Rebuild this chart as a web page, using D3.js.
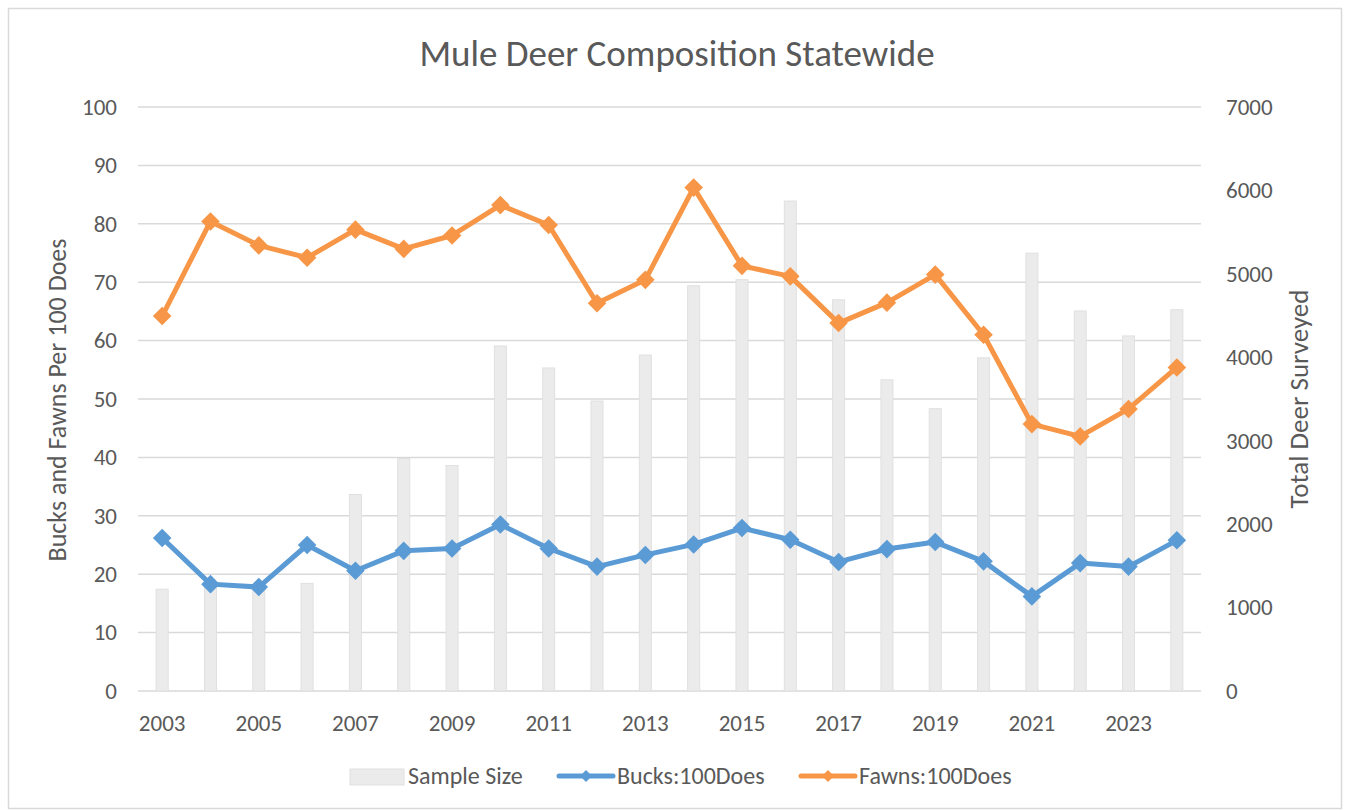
<!DOCTYPE html>
<html><head><meta charset="utf-8">
<script src="https://cdn.jsdelivr.net/npm/d3@7"></script>
<style>body{margin:0;background:#fff;} svg{display:block;} text{font-family:"Carlito","Liberation Sans Narrow","Liberation Sans",sans-serif;fill:#595959;}</style>
</head><body><svg id="c" width="1350" height="810"></svg>
<script>
const years = [2003,2004,2005,2006,2007,2008,2009,2010,2011,2012,2013,2014,2015,2016,2017,2018,2019,2020,2021,2022,2023,2024];
const sampleSize = [1220,1300,1230,1290,2355,2787,2703,4135,3872,3476,4027,4858,4930,5873,4689,3730,3384,3994,5248,4555,4256,4570];
const bucks = [26.2,18.3,17.8,25.0,20.6,24.0,24.4,28.5,24.4,21.3,23.3,25.1,27.9,25.9,22.1,24.3,25.5,22.2,16.2,21.9,21.3,25.8];
const fawns = [64.2,80.4,76.3,74.2,79.0,75.7,78.0,83.2,79.8,66.4,70.4,86.2,72.8,71.0,63.0,66.5,71.3,61.0,45.7,43.6,48.3,55.4];
const leftTicks = d3.range(0,101,10);
const rightTicks = d3.range(0,7001,1000);
const xLabels = years.filter((y,i)=>i%2===0);
const title = "Mule Deer Composition Statewide";
const leftTitle = "Bucks and Fawns Per 100 Does";
const rightTitle = "Total Deer Surveyed";
const seriesNames = ["Sample Size","Bucks:100Does","Fawns:100Does"];

const svg = d3.select("#c");
svg.append("rect").attr("x",8.5).attr("y",8.5).attr("width",1333).attr("height",800).attr("fill","#fff").attr("stroke","#d9d9d9").attr("stroke-width",1.5);

const m = {l:138, r:1201, t:107, b:691};
const x = d3.scaleBand().domain(years).range([m.l,m.r]);
const yL = d3.scaleLinear().domain([0,100]).range([m.b,m.t]);
const yR = d3.scaleLinear().domain([0,7000]).range([m.b,m.t]);

// gridlines
svg.append("g").selectAll("line").data(leftTicks).join("line")
  .attr("x1",m.l).attr("x2",m.r).attr("y1",d=>yL(d)).attr("y2",d=>yL(d))
  .attr("stroke","#d9d9d9").attr("stroke-width",1.5);

// bars
const bw = 12;
svg.append("g").selectAll("rect").data(years).join("rect")
  .attr("x",(d)=>x(d)+x.bandwidth()/2-bw/2).attr("width",bw)
  .attr("y",(d,i)=>yR(sampleSize[i])).attr("height",(d,i)=>m.b-yR(sampleSize[i]))
  .attr("fill","#ebebeb").attr("stroke","#e0e0e0").attr("stroke-width",1);

// axes
const axL = d3.axisLeft(yL).tickValues(leftTicks).tickSize(0).tickPadding(21);
const gL = svg.append("g").attr("transform",`translate(${m.l},0)`).call(axL);
gL.select(".domain").remove();
gL.selectAll("text").attr("font-size",23).style("fill","#595959");

const axR = d3.axisRight(yR).tickValues(rightTicks).tickFormat(d3.format("d")).tickSize(0).tickPadding(25);
const gR = svg.append("g").attr("transform",`translate(${m.r},0)`).call(axR);
gR.select(".domain").remove();
gR.selectAll("text").attr("font-size",23).style("fill","#595959");

const axB = d3.axisBottom(x).tickValues(xLabels).tickSize(0).tickPadding(24);
const gB = svg.append("g").attr("transform",`translate(0,${m.b})`).call(axB);
gB.select(".domain").remove();
gB.selectAll("text").attr("font-size",23).style("fill","#595959");

// lines
const cx = d=>x(d)+x.bandwidth()/2;
const diamond = d3.symbol().type(d3.symbolDiamond2).size(220);
function drawSeries(vals,color){
  const line = d3.line().x((d,i)=>cx(years[i])).y(d=>yL(d));
  svg.append("path").datum(vals).attr("d",line).attr("fill","none").attr("stroke",color).attr("stroke-width",5).attr("stroke-linejoin","round");
  svg.append("g").selectAll("path").data(vals).join("path")
    .attr("d",diamond).attr("transform",(d,i)=>`translate(${cx(years[i])},${yL(d)})`).attr("fill",color);
}
drawSeries(bucks,"#5b9bd5");
drawSeries(fawns,"#f79646");

// titles
svg.append("text").attr("x",677).attr("y",66).attr("text-anchor","middle").attr("font-size",37).text(title);
svg.append("text").attr("transform","translate(66,400) rotate(-90)").attr("text-anchor","middle").attr("font-size",26).text(leftTitle);
svg.append("text").attr("transform","translate(1308,399) rotate(-90)").attr("text-anchor","middle").attr("font-size",27).text(rightTitle);

// legend
const lg = svg.append("g");
lg.append("rect").attr("x",350).attr("y",769).attr("width",54).attr("height",16).attr("fill","#ebebeb").attr("stroke","#e0e0e0");
lg.append("text").attr("x",408).attr("y",784).attr("font-size",24).text(seriesNames[0]);
const legItems = [{x1:559,x2:613,c:"#5b9bd5",tx:617,t:seriesNames[1]},{x1:801,x2:855,c:"#f79646",tx:859,t:seriesNames[2]}];
legItems.forEach(it=>{
  lg.append("line").attr("x1",it.x1).attr("x2",it.x2).attr("y1",776).attr("y2",776).attr("stroke",it.c).attr("stroke-width",5).attr("stroke-linecap","round");
  lg.append("path").attr("d",d3.symbol().type(d3.symbolDiamond2).size(90)).attr("transform",`translate(${(it.x1+it.x2)/2},776)`).attr("fill",it.c);
  lg.append("text").attr("x",it.tx).attr("y",784).attr("font-size",24).text(it.t);
});
</script></body></html>
